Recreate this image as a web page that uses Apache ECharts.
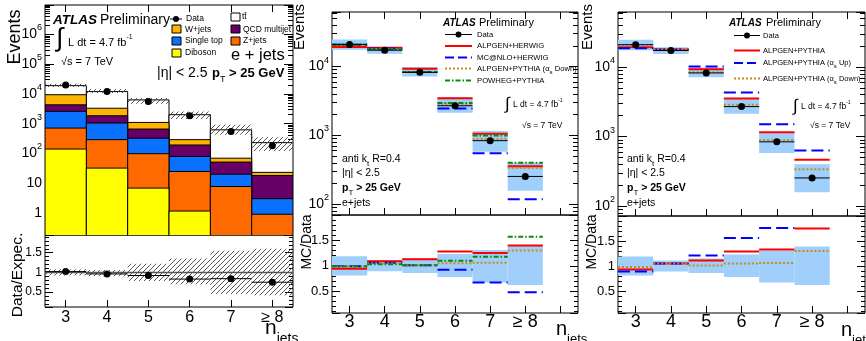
<!DOCTYPE html>
<html>
<head>
<meta charset="utf-8">
<script src="https://cdn.jsdelivr.net/npm/echarts@6/dist/echarts.min.js"></script>
<style>
html, body { margin: 0; padding: 0; background: #fff; }
#c { width: 866px; height: 341px; }
</style>
</head>
<body>
<div id="c"></div>
<script>
var jets = ['3', '4', '5', '6', '7', '≥ 8'];
var jets7 = ['3', '4', '5', '6', '7', '≥ 8', ''];

// left panel: expected events per process, stacked from the bottom up
var diboson = [140, 32, 6.8, 1.15, 0.1, 0.05];
var zjets = [570, 258, 91, 23.5, 7.6, 0.85];
var singleTop = [1890, 760, 227, 54, 12.3, 2.1];
var qcd = [1700, 800, 335, 113, 31, 15];
var wjets = [5100, 1450, 440, 98, 18, 5];
var ttbar = [9600, 8700, 5200, 1710, 551, 207];
var data1 = [20000, 12000, 5600, 1850, 550, 180];
var systLo1 = [17100, 10700, 4700, 1430, 425, 120];
var systHi1 = [22000, 14600, 7300, 2570, 920, 350];
var ratio1 = [1.02, 0.96, 0.92, 0.83, 0.84, 0.75];
var rSystLo1 = [0.92, 0.9, 0.78, 0.7, 0.45, 0.42];
var rSystHi1 = [1.08, 1.06, 1.22, 1.35, 1.55, 1.6];

// unfolded data (middle and right panels)
var dataU = [21000, 17300, 8240, 2700, 840, 254];
var dataLo = [17500, 15400, 7150, 2130, 580, 158];
var dataHi = [24800, 19300, 9900, 3600, 1160, 400];
var rDataLo = [0.81, 0.89, 0.86, 0.78, 0.67, 0.62];
var rDataHi = [1.19, 1.11, 1.15, 1.23, 1.31, 1.39];

// middle panel predictions
var alpHer = [19300, 18700, 9300, 3480, 1060, 357];
var mcnloHer = [20800, 18300, 8320, 2470, 550, 119];
var alpPyDown = [20500, 18000, 8400, 2870, 890, 338];
var powhegPy = [20800, 17800, 8320, 2960, 995, 402];
var rAlpHer = [0.94, 1.09, 1.13, 1.28, 1.25, 1.40];
var rMcnloHer = [0.99, 1.06, 1.01, 0.92, 0.67, 0.48];
var rAlpPyDown = [0.98, 1.05, 1.01, 1.05, 1.06, 1.30];
var rPowhegPy = [0.99, 1.03, 1.01, 1.10, 1.18, 1.57];

// right panel predictions
var alpPy = [19300, 17900, 9270, 3540, 1157, 464];
var alpPyUp = [18700, 17900, 10200, 4300, 1510, 630];
var rAlpPy = [0.93, 1.05, 1.11, 1.29, 1.33, 1.75];
var rAlpPyUp = [0.89, 1.05, 1.21, 1.56, 1.76, 2.45];

var FF = 'Liberation Sans, Arial, sans-serif';
var BAND = '#9fcffa';

function hatchPattern() {
    var c = document.createElement('canvas');
    c.width = 5; c.height = 5;
    var g = c.getContext('2d');
    g.strokeStyle = '#444';
    g.lineWidth = 0.9;
    g.beginPath();
    g.moveTo(0, 5); g.lineTo(5, 0);
    g.moveTo(-1, 1); g.lineTo(1, -1);
    g.moveTo(4, 6); g.lineTo(6, 4);
    g.stroke();
    return { image: c, repeat: 'repeat' };
}
var HATCH = hatchPattern();

function pairs(vals) {
    return vals.map(function (v, i) { return [i, v]; });
}

function fillHist(g, vals, color) {
    return {
        type: 'custom', xAxisIndex: g, yAxisIndex: g, clip: true, data: pairs(vals),
        renderItem: function (p, api) {
            var c = api.coord([api.value(0), api.value(1)]);
            var w = api.size([1, 0])[0];
            var bottom = p.coordSys.y + p.coordSys.height + 2;
            return { type: 'rect', shape: { x: c[0] - w / 2, y: c[1], width: w, height: bottom - c[1] },
                style: { fill: color, stroke: '#000', lineWidth: 1 } };
        }
    };
}

function boxes(g, lo, hi, fill) {
    return {
        type: 'custom', xAxisIndex: g, yAxisIndex: g, clip: true,
        data: lo.map(function (v, i) { return [i, v, hi[i]]; }),
        renderItem: function (p, api) {
            var a = api.coord([api.value(0), api.value(2)]);
            var b = api.coord([api.value(0), api.value(1)]);
            var w = api.size([1, 0])[0];
            return { type: 'rect', shape: { x: a[0] - w / 2, y: a[1], width: w, height: b[1] - a[1] },
                style: { fill: fill, stroke: null } };
        }
    };
}

function levels(g, vals, color, dash, width) {
    return {
        type: 'custom', xAxisIndex: g, yAxisIndex: g, clip: true, data: pairs(vals),
        renderItem: function (p, api) {
            var c = api.coord([api.value(0), api.value(1)]);
            var w = api.size([1, 0])[0];
            return { type: 'line', shape: { x1: c[0] - w / 2, y1: c[1], x2: c[0] + w / 2, y2: c[1] },
                style: { stroke: color, lineWidth: width, lineDash: dash || null } };
        }
    };
}

function points(g, vals, withBar) {
    return {
        type: 'custom', xAxisIndex: g, yAxisIndex: g, clip: true, data: pairs(vals),
        renderItem: function (p, api) {
            var c = api.coord([api.value(0), api.value(1)]);
            var w = api.size([1, 0])[0];
            var kids = [];
            if (withBar) {
                kids.push({ type: 'line', shape: { x1: c[0] - w / 2, y1: c[1], x2: c[0] + w / 2, y2: c[1] },
                    style: { stroke: '#000', lineWidth: 1 } });
            }
            kids.push({ type: 'circle', shape: { cx: c[0], cy: c[1], r: 3.5 }, style: { fill: '#000' } });
            return { type: 'group', children: kids };
        }
    };
}

function unity(g, color) {
    return {
        type: 'custom', xAxisIndex: g, yAxisIndex: g, clip: true, data: [[0, 1]],
        renderItem: function (p, api) {
            var c = api.coord([0, 1]);
            return { type: 'line', shape: { x1: p.coordSys.x, y1: c[1], x2: p.coordSys.x + p.coordSys.width, y2: c[1] },
                style: { stroke: color, lineWidth: 1.5 } };
        }
    };
}

function logFmt(v) {
    var e = Math.round(Math.log(v) / Math.LN10);
    if (Math.abs(v / Math.pow(10, e) - 1) > 1e-6) return '';
    if (e === 0) return '1';
    if (e === 1) return '10';
    return '10{s|' + e + '}';
}
function ratFmt(v) {
    var r = Math.round(v * 2) / 2;
    if (Math.abs(v - r) > 1e-6 || r < 0.4 || r > 1.6) return '';
    return r === 1 ? '1' : String(r);
}

function xa(g, cats, pos, labels, size, margin) {
    return {
        type: 'category', gridIndex: g, data: cats, position: pos, boundaryGap: true,
        axisLine: { show: false },
        axisTick: { show: true, inside: true, alignWithLabel: true, interval: 0, length: 7, lineStyle: { color: '#000' } },
        axisLabel: { show: labels, interval: 0, fontSize: size, fontFamily: FF, color: '#000', margin: margin },
        splitLine: { show: false }
    };
}
function ylog(g, min, max, pos, labels) {
    return {
        type: 'log', logBase: 10, gridIndex: g, min: min, max: max, position: pos,
        axisLine: { show: false },
        axisTick: { show: true, inside: true, length: 9, lineStyle: { color: '#000' } },
        minorTick: { show: true, splitNumber: 9, length: 5, lineStyle: { color: '#000' } },
        axisLabel: { show: labels, formatter: logFmt, fontSize: 14, lineHeight: 22, fontFamily: FF, color: '#000', margin: 3,
            rich: { s: { fontSize: 9, lineHeight: 9, verticalAlign: 'top', fontFamily: FF, color: '#000' } } },
        splitLine: { show: false }, minorSplitLine: { show: false }
    };
}
function yrat(g, min, max, pos, labels, size) {
    return {
        type: 'value', gridIndex: g, min: min, max: max, splitNumber: 4, position: pos,
        axisLine: { show: false },
        axisTick: { show: true, inside: true, length: 8, lineStyle: { color: '#000' } },
        minorTick: { show: true, splitNumber: 5, length: 4, lineStyle: { color: '#000' } },
        axisLabel: { show: labels, formatter: ratFmt, fontSize: size, fontFamily: FF, color: '#000', margin: 3 },
        splitLine: { show: false }, minorSplitLine: { show: false }
    };
}

var G = [[45, 5, 248, 230], [45, 235, 248, 72], [332, 12, 246, 203], [332, 215, 246, 98], [618, 12, 247, 204], [618, 216, 247, 97]];

var xAxes = [
    xa(0, jets, 'bottom', false, 16, 2), xa(1, jets, 'bottom', true, 16, 3),
    xa(2, jets7, 'bottom', false, 18, 0), xa(3, jets7, 'bottom', true, 18, 0),
    xa(4, jets7, 'bottom', false, 18, 0), xa(5, jets7, 'bottom', true, 18, 0),
    xa(0, jets, 'top', false, 16, 2), xa(2, jets7, 'top', false, 16, 2), xa(4, jets7, 'top', false, 16, 2)
];
var lims = [[0.18, 9.8e6], [0.12, 1.95], [70, 62000], [0.07, 2.0], [72, 62000], [0.06, 2.0]];
var yAxes = [];
['left', 'right'].forEach(function (pos) {
    lims.forEach(function (l, g) {
        var lab = pos === 'left';
        yAxes.push(g % 2 === 0 ? ylog(g, l[0], l[1], pos, lab) : yrat(g, l[0], l[1], pos, lab, g === 1 ? 12 : 13));
    });
});

var S = [];
// stacked histogram, drawn from the total down
var stack = [diboson, zjets, singleTop, qcd, wjets, ttbar];
var stackColors = ['#ffff00', '#ff6a00', '#0a70ff', '#660066', '#ffb400', '#ffffff'];
var run = jets.map(function () { return 0; });
var tops = stack.map(function (arr) {
    run = run.map(function (s, i) { return s + arr[i]; });
    return run.slice();
});
for (var k = tops.length - 1; k >= 0; k--) S.push(fillHist(0, tops[k], stackColors[k]));
S.push(boxes(0, systLo1, systHi1, HATCH));
S.push(points(0, data1, false));
S.push(boxes(1, rSystLo1, rSystHi1, HATCH));
S.push(unity(1, '#555'));
S.push(points(1, ratio1, true));

var RED = '#ff0000', BLUE = '#0000ff', ORG = '#c98a1e', GRN = '#0a8a0a';
var DASH = [12, 5], DOT = [2, 2], DASHDOT = [5, 2, 1.5, 2];

// middle panel
S.push(boxes(2, dataLo, dataHi, BAND));
S.push(levels(2, alpHer, RED, null, 2));
S.push(levels(2, mcnloHer, BLUE, DASH, 2));
S.push(levels(2, alpPyDown, ORG, DOT, 2));
S.push(levels(2, powhegPy, GRN, DASHDOT, 2));
S.push(points(2, dataU, true));
S.push(boxes(3, rDataLo, rDataHi, BAND));
S.push(levels(3, rAlpHer, RED, null, 2));
S.push(levels(3, rMcnloHer, BLUE, DASH, 2));
S.push(levels(3, rAlpPyDown, ORG, DOT, 2));
S.push(levels(3, rPowhegPy, GRN, DASHDOT, 2));

// right panel
S.push(boxes(4, dataLo, dataHi, BAND));
S.push(levels(4, alpPy, RED, null, 2));
S.push(levels(4, alpPyUp, BLUE, DASH, 2));
S.push(levels(4, alpPyDown, ORG, DOT, 2));
S.push(points(4, dataU, true));
S.push(boxes(5, rDataLo, rDataHi, BAND));
S.push(levels(5, rAlpPy, RED, null, 2));
S.push(levels(5, rAlpPyUp, BLUE, DASH, 2));
S.push(levels(5, rAlpPyDown, ORG, DOT, 2));

function T(x, y, text, size, o) {
    o = o || {};
    var lh = Math.round(size * 1.7);
    var ss = Math.round(size * 0.62);
    return {
        type: 'text', x: x, y: y, rotation: o.rot || 0, z: 100,
        style: {
            text: text, fontSize: size, fontFamily: FF, fill: '#000',
            fontWeight: o.bold ? 'bold' : 'normal', fontStyle: o.italic ? 'italic' : 'normal',
            align: o.align || 'left', verticalAlign: 'middle', lineHeight: lh,
            rich: {
                s: { fontSize: ss, lineHeight: ss, verticalAlign: 'top', fontFamily: FF },
                b: { fontSize: ss + 1, lineHeight: ss + 1, verticalAlign: 'bottom', fontFamily: FF }
            }
        }
    };
}
function L(x1, x2, y, color, dash) {
    return { type: 'line', z: 100, shape: { x1: x1, y1: y, x2: x2, y2: y }, style: { stroke: color, lineWidth: 2, lineDash: dash || null } };
}
function dot(x, y) {
    return { type: 'circle', z: 101, shape: { cx: x, cy: y, r: 3 }, style: { fill: '#000' } };
}
function box(x, y, color) {
    return { type: 'rect', z: 100, shape: { x: x, y: y, width: 9, height: 8 }, style: { fill: color, stroke: '#000', lineWidth: 1 } };
}

var R90 = Math.PI / 2;
var gr = [
    // left panel
    T(15.5, 37, 'Events', 18, { rot: R90, align: 'center' }),
    T(17.5, 275, 'Data/Expec.', 15.5, { rot: R90, align: 'center' }),
    T(53, 20, 'ATLAS', 13.5, { bold: true, italic: true }),
    T(100, 20, 'Preliminary', 14),
    { type: 'line', z: 100, shape: { x1: 170, y1: 19, x2: 182, y2: 19 }, style: { stroke: '#000', lineWidth: 1 } },
    dot(176, 19),
    T(186, 19, 'Data', 8.5),
    box(231, 13, '#ffffff'), T(242, 17, 'tt\u0304', 8.5),
    box(172, 25, '#ffb400'), T(185, 29.5, 'W+jets', 8.5),
    box(231, 25, '#660066'), T(243, 29.5, 'QCD multijet', 8.5),
    box(172, 37, '#0a70ff'), T(185, 41, 'Single top', 8.5),
    box(231, 37, '#ff6a00'), T(243, 41, 'Z+jets', 8.5),
    box(172, 49, '#ffff00'), T(185, 53, 'Diboson', 8.5),
    T(231, 55, 'e + jets', 16.5),
    T(56, 39, '∫', 26),
    T(68, 43, 'L dt = 4.7 fb{s|-1}', 11),
    T(61, 62, '√s = 7 TeV', 11),
    T(157, 73, '|η| < 2.5', 14),
    T(212, 73, 'p{b|T} > 25 GeV', 13, { bold: true }),
    T(265, 328, 'n{b|jets}', 21),

    // middle panel
    T(300, 27, 'Events', 15, { rot: R90, align: 'center' }),
    T(307.5, 242, 'MC/Data', 14, { rot: R90, align: 'center' }),
    T(443, 23, 'ATLAS', 10, { bold: true, italic: true }),
    T(479, 23, 'Preliminary', 11),
    { type: 'line', z: 100, shape: { x1: 445, y1: 34.5, x2: 472, y2: 34.5 }, style: { stroke: '#000', lineWidth: 1 } },
    dot(458.5, 34.5), T(477, 34.5, 'Data', 7.7),
    L(445, 472, 46, RED), T(477, 46, 'ALPGEN+HERWIG', 7.7),
    L(445, 472, 57.5, BLUE, [9, 4]), T(477, 57.5, 'MC@NLO+HERWIG', 7.7),
    L(445, 472, 68.5, ORG, DOT), T(477, 68.5, 'ALPGEN+PYTHIA (α{b|s} Down)', 7.7),
    L(445, 472, 80.5, GRN, DASHDOT), T(477, 80.5, 'POWHEG+PYTHIA', 7.7),
    T(505, 104, '∫', 17),
    T(513, 105, 'L dt = 4.7 fb{s|-1}', 8.5),
    T(522, 126, '√s = 7 TeV', 8.5),
    T(342, 159, 'anti k{b|t} R=0.4', 10.5),
    T(342, 173, '|η| < 2.5', 10.5),
    T(342, 188, 'p{b|T} > 25 GeV', 10.5, { bold: true }),
    T(342, 203, 'e+jets', 10.5),
    T(556, 329, 'n{b|jets}', 20),

    // right panel
    T(587.5, 27, 'Events', 15, { rot: R90, align: 'center' }),
    T(592.5, 242, 'MC/Data', 14, { rot: R90, align: 'center' }),
    T(729, 23, 'ATLAS', 10, { bold: true, italic: true }),
    T(766, 23, 'Preliminary', 11),
    { type: 'line', z: 100, shape: { x1: 734, y1: 35.5, x2: 760, y2: 35.5 }, style: { stroke: '#000', lineWidth: 1 } },
    dot(747, 35.5), T(763, 35.5, 'Data', 7.5),
    L(734, 760, 50.5, RED), T(763, 50.5, 'ALPGEN+PYTHIA', 7.5),
    L(734, 760, 63, BLUE, [9, 4]), T(763, 63, 'ALPGEN+PYTHIA (α{b|s} Up)', 7.5),
    L(734, 760, 78.5, ORG, DOT), T(763, 78.5, 'ALPGEN+PYTHIA (α{b|s} Down)', 7.5),
    T(793, 106, '∫', 17),
    T(801, 107, 'L dt = 4.7 fb{s|-1}', 8.5),
    T(810, 126, '√s = 7 TeV', 8.5),
    T(627, 159, 'anti k{b|t} R=0.4', 10.5),
    T(627, 173, '|η| < 2.5', 10.5),
    T(627, 188, 'p{b|T} > 25 GeV', 10.5, { bold: true }),
    T(627, 203, 'e+jets', 10.5),
    T(841, 330, 'n{b|jets}', 20)
];

var chart = echarts.init(document.getElementById('c'), null, { renderer: 'canvas' });
chart.setOption({
    animation: false,
    backgroundColor: '#fff',
    grid: G.map(function (r) {
        return { left: r[0], top: r[1], width: r[2], height: r[3], show: true, borderColor: '#000', borderWidth: 1,
            backgroundColor: 'transparent', containLabel: false, outerBoundsMode: 'none' };
    }),
    xAxis: xAxes,
    yAxis: yAxes,
    series: S,
    graphic: gr
});
</script>
</body>
</html>
